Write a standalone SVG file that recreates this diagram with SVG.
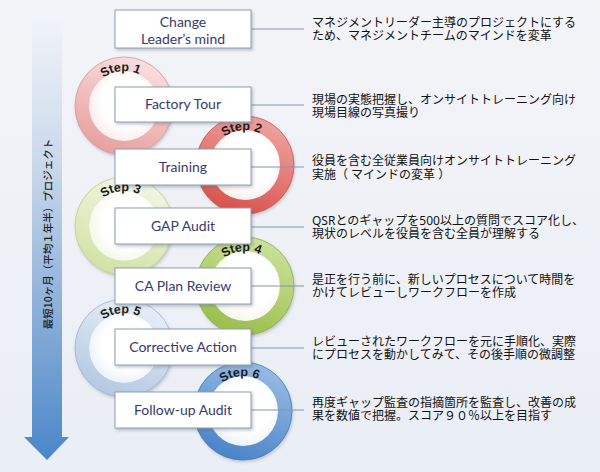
<svg xmlns="http://www.w3.org/2000/svg" width="600" height="472" viewBox="0 0 600 472">
<defs>
<style>
.box{fill:#ffffff;stroke:#8e9cb0;stroke-width:1;filter:url(#sh)}
.blabel{font-family:Lato,"Open Sans",sans-serif;font-size:14px;fill:#373b6c;text-anchor:middle}
.desc{font-family:"Noto Sans","Noto Sans CJK JP",sans-serif;font-size:12px;fill:#111111}
.conn{stroke:#8197ae;stroke-width:1;fill:none}
.ring{fill:none;stroke-width:14}
.inner{stroke:none}
.edge{fill:none;stroke-width:0.8}
.step{font-family:"Liberation Sans",sans-serif;font-weight:bold;font-size:12.5px;fill:#1c1c1c}
</style>
<filter id="sh" x="-20%" y="-20%" width="140%" height="150%">
<feDropShadow dx="1.5" dy="2" stdDeviation="1.5" flood-color="#5a6478" flood-opacity="0.35"/>
</filter>
<filter id="rsh" x="-20%" y="-20%" width="140%" height="140%">
<feDropShadow dx="1" dy="2" stdDeviation="1.5" flood-color="#5a6478" flood-opacity="0.3"/>
</filter>
<linearGradient id="bg" x1="0" y1="0" x2="0" y2="1">
<stop offset="0" stop-color="#f3f4f8"/>
<stop offset="1" stop-color="#eaeef5"/>
</linearGradient>
<linearGradient id="arrowg" x1="0" y1="0" x2="0" y2="1">
<stop offset="0" stop-color="#f2f5fa"/>
<stop offset="0.35" stop-color="#c9d7ea"/>
<stop offset="1" stop-color="#4a86c8"/>
</linearGradient>
<linearGradient id="g1" x1="0.7" y1="0" x2="0.3" y2="1">
<stop offset="0" stop-color="#f9dcdc"/><stop offset="1" stop-color="#e9a2a2"/>
</linearGradient>
<linearGradient id="g2" x1="0.7" y1="0" x2="0.3" y2="1">
<stop offset="0" stop-color="#ee9f9c"/><stop offset="1" stop-color="#d9554f"/>
</linearGradient>
<linearGradient id="g3" x1="0.7" y1="0" x2="0.3" y2="1">
<stop offset="0" stop-color="#f1f6e2"/><stop offset="1" stop-color="#d3e3a6"/>
</linearGradient>
<linearGradient id="g4" x1="0.7" y1="0" x2="0.3" y2="1">
<stop offset="0" stop-color="#cadf96"/><stop offset="1" stop-color="#9cbf4e"/>
</linearGradient>
<linearGradient id="g5" x1="0.7" y1="0" x2="0.3" y2="1">
<stop offset="0" stop-color="#e6edf6"/><stop offset="1" stop-color="#b6cae3"/>
</linearGradient>
<linearGradient id="g6" x1="0.7" y1="0" x2="0.3" y2="1">
<stop offset="0" stop-color="#94b8e2"/><stop offset="1" stop-color="#4c86ca"/>
</linearGradient>
<radialGradient id="in1" cx="0.55" cy="0.45" r="0.6"><stop offset="0.6" stop-color="#ffffff"/><stop offset="1" stop-color="#fbe9e9"/></radialGradient>
<radialGradient id="in3" cx="0.55" cy="0.45" r="0.6"><stop offset="0.6" stop-color="#ffffff"/><stop offset="1" stop-color="#f3f7e6"/></radialGradient>
<radialGradient id="in5" cx="0.55" cy="0.45" r="0.6"><stop offset="0.6" stop-color="#ffffff"/><stop offset="1" stop-color="#eaf0f8"/></radialGradient>
<path id="arc" d="M-35,0 A35,35 0 0 1 35,0"/>
</defs>

<rect x="0" y="0" width="600" height="472" fill="url(#bg)"/>

<g id="timeline">
<path d="M32,12 H62 V437 H69 L47,460 L24,437 H32 Z" fill="url(#arrowg)"/>
<text transform="translate(47,234) rotate(-90)" text-anchor="middle" dominant-baseline="central" font-family="'Noto Sans CJK JP',sans-serif" font-size="10.5" font-weight="500" fill="#1e1e1e">最短10ヶ月（平均１年半）プロジェクト</text>
</g>

<g id="step1-ring" transform="translate(124,106)">
<g filter="url(#rsh)"><circle r="35" fill="url(#in1)" class="inner"/><circle r="42" class="ring" stroke="url(#g1)"/></g>
<circle r="49" class="edge" stroke="#d59a9a"/>
</g>
<g id="step2-ring" transform="translate(245,165)">
<g filter="url(#rsh)"><circle r="35" fill="url(#in1)" class="inner"/><circle r="42" class="ring" stroke="url(#g2)"/></g>
<circle r="49" class="edge" stroke="#c85a55"/>
</g>
<g id="step3-ring" transform="translate(124,226)">
<g filter="url(#rsh)"><circle r="35" fill="url(#in3)" class="inner"/><circle r="42" class="ring" stroke="url(#g3)"/></g>
<circle r="49" class="edge" stroke="#bccf8e"/>
</g>
<g id="step4-ring" transform="translate(245,286)">
<g filter="url(#rsh)"><circle r="35" fill="url(#in3)" class="inner"/><circle r="42" class="ring" stroke="url(#g4)"/></g>
<circle r="49" class="edge" stroke="#8fae4a"/>
</g>
<g id="step5-ring" transform="translate(124,348)">
<g filter="url(#rsh)"><circle r="35" fill="url(#in5)" class="inner"/><circle r="42" class="ring" stroke="url(#g5)"/></g>
<circle r="49" class="edge" stroke="#9fb4cf"/>
</g>
<g id="step6-ring" transform="translate(243,411)">
<g filter="url(#rsh)"><circle r="35" fill="url(#in5)" class="inner"/><circle r="42" class="ring" stroke="url(#g6)"/></g>
<circle r="49" class="edge" stroke="#4a7cb8"/>
</g>

<g id="connectors">
<line class="conn" x1="251" y1="29" x2="304" y2="29"/>
<line class="conn" x1="251" y1="105" x2="304" y2="105"/>
<line class="conn" x1="251" y1="167" x2="304" y2="167"/>
<line class="conn" x1="251" y1="227" x2="304" y2="227"/>
<line class="conn" x1="251" y1="286" x2="304" y2="286"/>
<line class="conn" x1="251" y1="348" x2="304" y2="348"/>
<line class="conn" x1="251" y1="410" x2="304" y2="410"/>
</g>

<g id="node-change">
<rect class="box" x="115" y="10" width="136" height="38"/>
<text class="blabel" x="183" y="27">Change<tspan x="183" dy="17">Leader’s mind</tspan></text>
</g>
<g id="node-factory-tour">
<rect class="box" x="115" y="87" width="136" height="35"/>
<text class="blabel" x="183" y="109">Factory Tour</text>
</g>
<g id="node-training">
<rect class="box" x="115" y="149" width="136" height="36"/>
<text class="blabel" x="183" y="172">Training</text>
</g>
<g id="node-gap-audit">
<rect class="box" x="115" y="208" width="136" height="36"/>
<text class="blabel" x="183" y="231">GAP Audit</text>
</g>
<g id="node-ca-plan-review">
<rect class="box" x="115" y="268" width="136" height="36"/>
<text class="blabel" x="183" y="291">CA Plan Review</text>
</g>
<g id="node-corrective-action">
<rect class="box" x="115" y="329" width="136" height="36"/>
<text class="blabel" x="183" y="352">Corrective Action</text>
</g>
<g id="node-follow-up-audit">
<rect class="box" x="115" y="392" width="136" height="36"/>
<text class="blabel" x="183" y="415">Follow-up Audit</text>
</g>

<g id="step-labels">
<text id="step1" class="step" transform="translate(124,106)"><textPath href="#arc" startOffset="47%" text-anchor="middle">Step 1</textPath></text>
<text id="step2" class="step" transform="translate(245,165)"><textPath href="#arc" startOffset="47%" text-anchor="middle">Step 2</textPath></text>
<text id="step3" class="step" transform="translate(124,226)"><textPath href="#arc" startOffset="47%" text-anchor="middle">Step 3</textPath></text>
<text id="step4" class="step" transform="translate(245,286)"><textPath href="#arc" startOffset="47%" text-anchor="middle">Step 4</textPath></text>
<text id="step5" class="step" transform="translate(124,348)"><textPath href="#arc" startOffset="47%" text-anchor="middle">Step 5</textPath></text>
<text id="step6" class="step" transform="translate(243,411)"><textPath href="#arc" startOffset="47%" text-anchor="middle">Step 6</textPath></text>
</g>

<g id="descriptions">
<text class="desc" x="312" y="27">マネジメントリーダー主導のプロジェクトにする<tspan x="312" dy="13">ため、マネジメントチームのマインドを変革</tspan></text>
<text class="desc" x="312" y="104">現場の実態把握し、オンサイトトレーニング向け<tspan x="312" dy="13">現場目線の写真撮り</tspan></text>
<text class="desc" x="312" y="165">役員を含む全従業員向けオンサイトトレーニング<tspan x="312" dy="14">実施（ マインドの変革 ）</tspan></text>
<text class="desc" x="312" y="225">QSRとのギャップを500以上の質問でスコア化し、<tspan x="312" dy="13">現状のレベルを役員を含む全員が理解する</tspan></text>
<text class="desc" x="312" y="284">是正を行う前に、新しいプロセスについて時間を<tspan x="312" dy="13">かけてレビューしワークフローを作成</tspan></text>
<text class="desc" x="312" y="346">レビューされたワークフローを元に手順化、実際<tspan x="312" dy="13">にプロセスを動かしてみて、その後手順の微調整</tspan></text>
<text class="desc" x="312" y="407">再度ギャップ監査の指摘箇所を監査し、改善の成<tspan x="312" dy="13">果を数値で把握。スコア９０％以上を目指す</tspan></text>
</g>
</svg>
